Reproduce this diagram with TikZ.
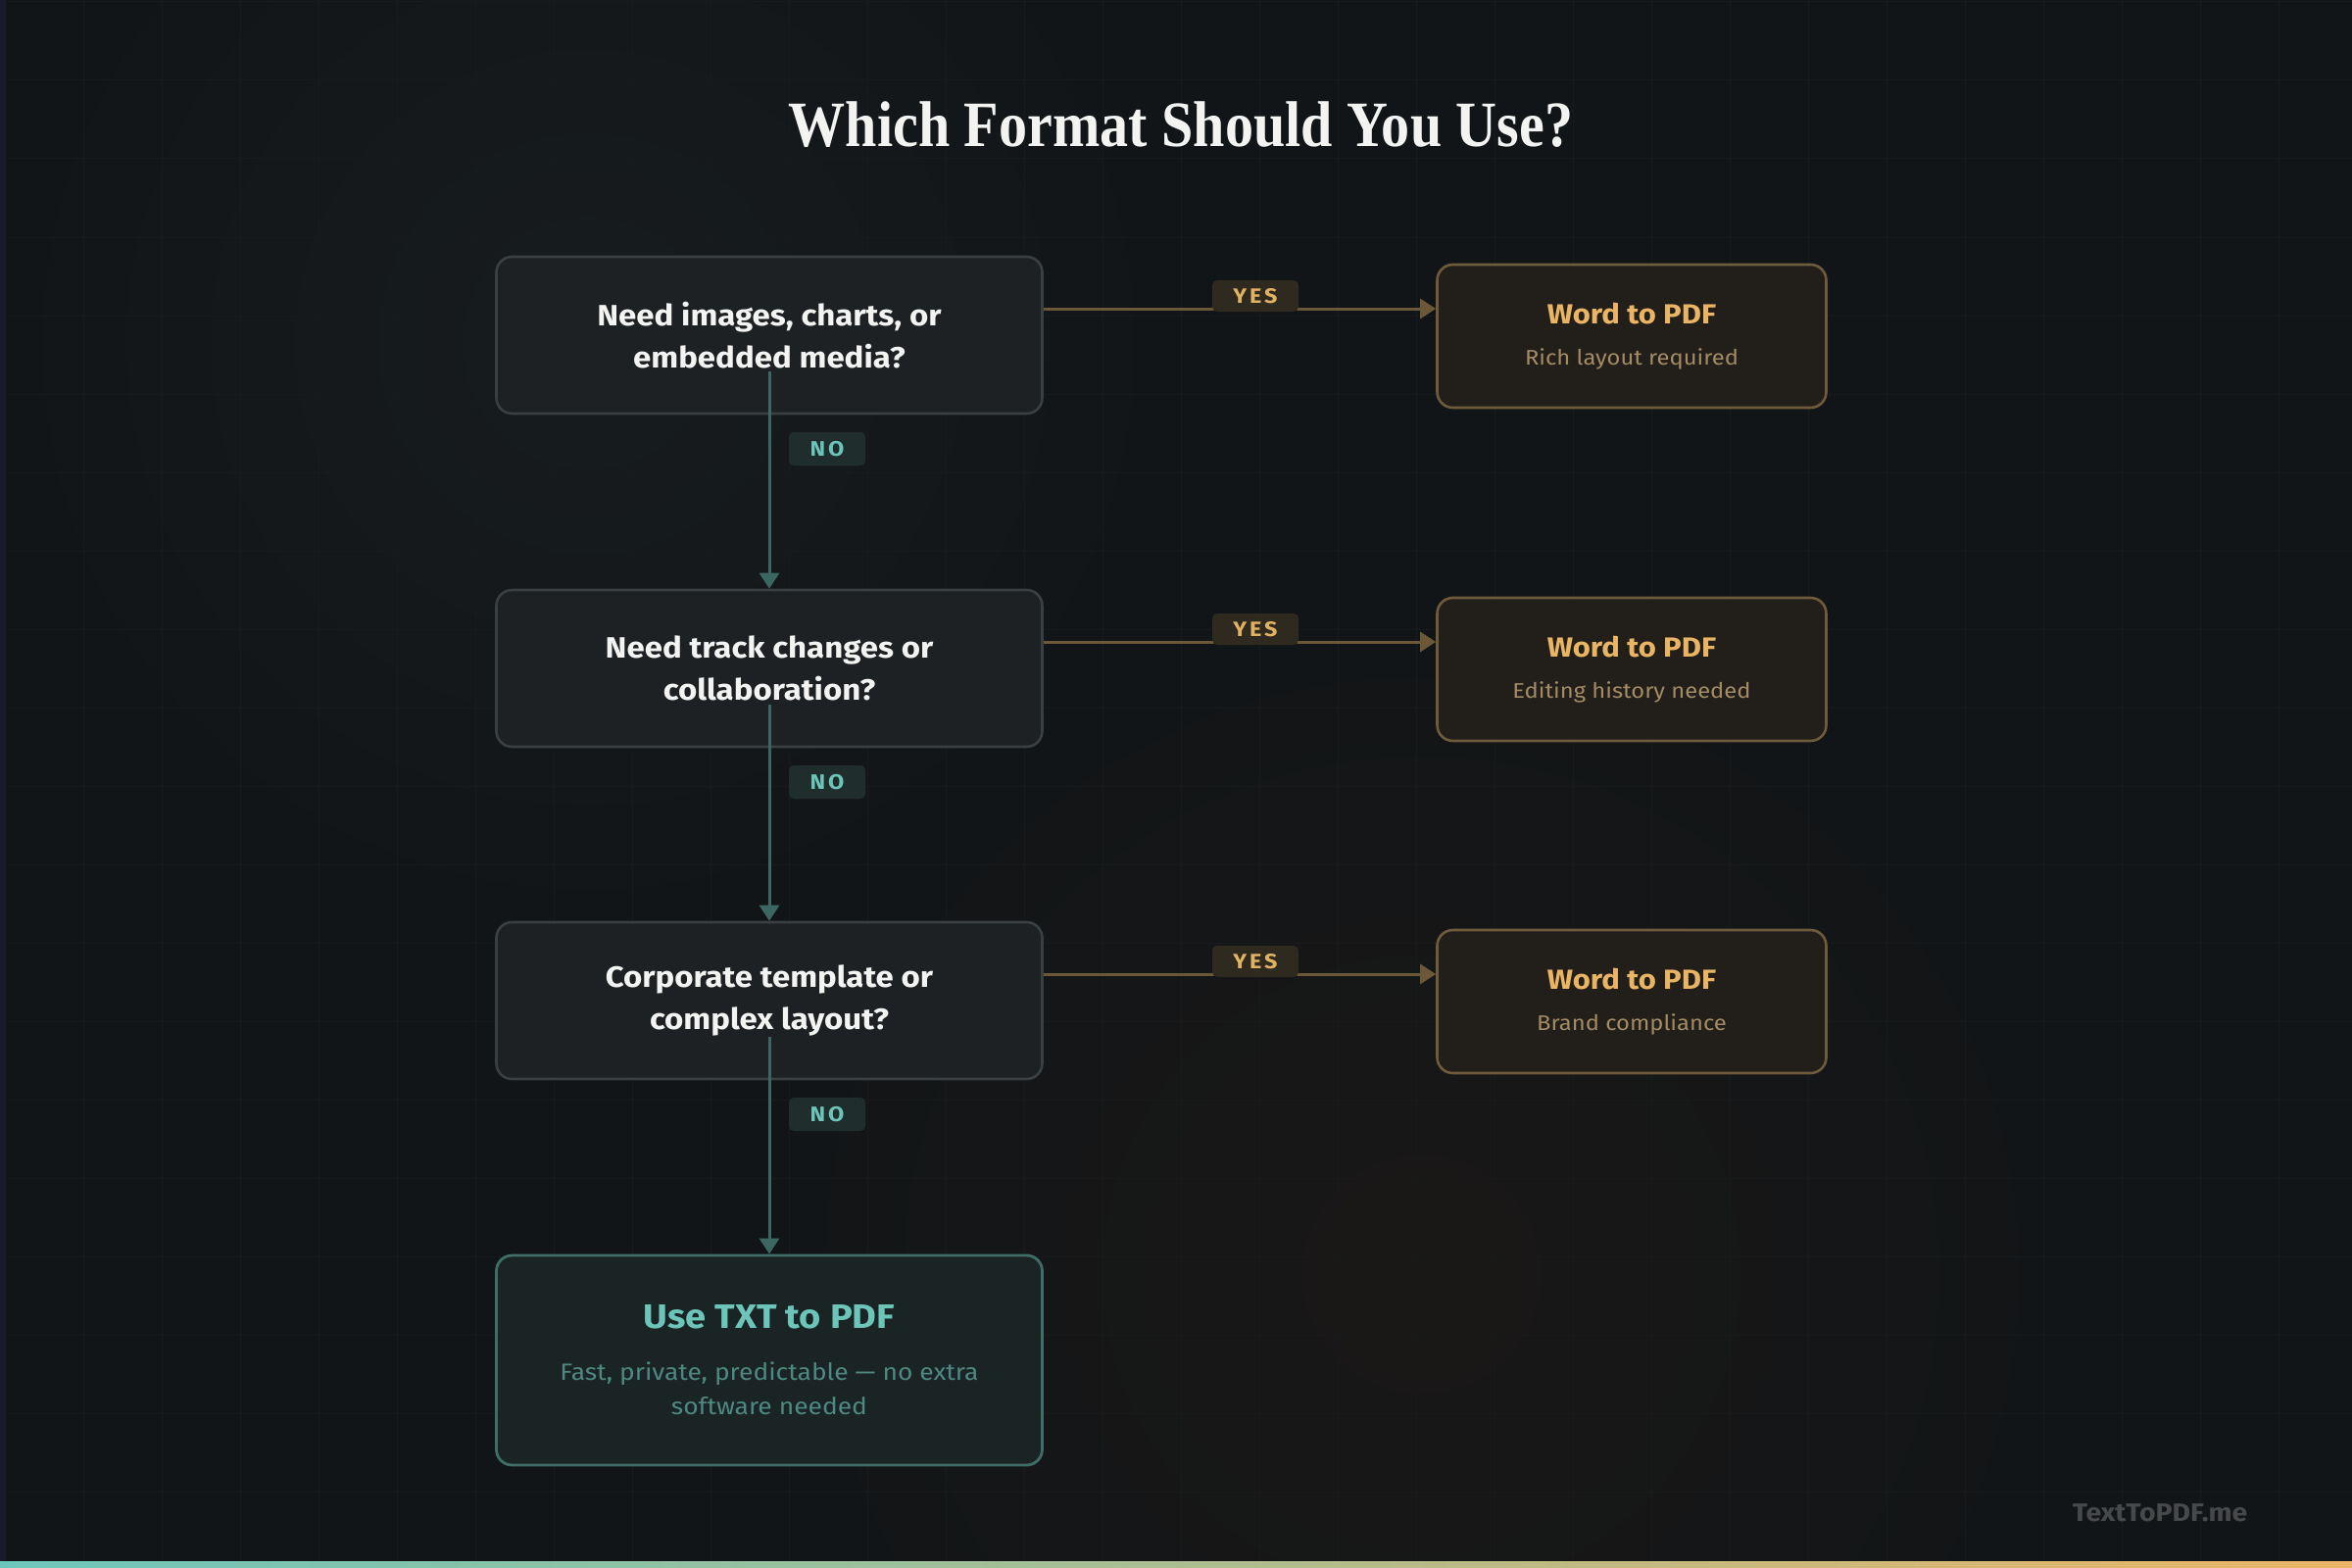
\documentclass[tikz,border=0pt]{standalone}
\usepackage{fontspec}
\setmainfont[FakeStretch=1.1]{Fira Sans}
\newfontfamily\titlefont[FakeStretch=0.88]{Liberation Serif}
\usetikzlibrary{arrows.meta,calc}
\definecolor{bg}{HTML}{121517}
\definecolor{gridc}{HTML}{181B1E}
\definecolor{qfill}{HTML}{1D2123}
\definecolor{qborder}{HTML}{3A3F41}
\definecolor{qtext}{HTML}{F3F3F1}
\definecolor{ofill}{HTML}{221F1A}
\definecolor{oborder}{HTML}{6E5B3C}
\definecolor{otitle}{HTML}{E9B565}
\definecolor{osub}{HTML}{A38B66}
\definecolor{tfill}{HTML}{1A2424}
\definecolor{tborder}{HTML}{3F6E68}
\definecolor{ttitle}{HTML}{6CC5B8}
\definecolor{tsub}{HTML}{4F8880}
\definecolor{tline}{HTML}{3B6662}
\definecolor{oline}{HTML}{6A5838}
\definecolor{yesfill}{HTML}{2F2A20}
\definecolor{yestext}{HTML}{E2B263}
\definecolor{nofill}{HTML}{1F2E2D}
\definecolor{notext}{HTML}{6CC5B8}
\definecolor{mark}{HTML}{47484A}
\definecolor{barl}{HTML}{6CC7BB}
\definecolor{barr}{HTML}{EAB466}
\definecolor{strip}{HTML}{1B1A2C}
\definecolor{glowt}{HTML}{171C1E}
\definecolor{glowo}{HTML}{1A1817}
\tikzset{
  qbox/.style={draw=qborder, fill=qfill, line width=1.3pt, rounded corners=8pt,
    minimum width=278.5pt, minimum height=80pt, align=center, text=qtext,
    font=\bfseries\fontsize{15}{21.5}\selectfont, inner sep=0pt},
  obox/.style={draw=oborder, fill=ofill, line width=1.3pt, rounded corners=8pt,
    minimum width=198.5pt, minimum height=73pt, align=center, inner sep=0pt,
    font=\fontsize{10.8}{14}\selectfont},
  tbox/.style={draw=tborder, fill=tfill, line width=1.4pt, rounded corners=8pt,
    minimum width=278.5pt, minimum height=107pt, align=center, inner sep=0pt,
    font=\fontsize{12}{17.5}\selectfont},
  yeslab/.style={fill=yesfill, rounded corners=2.5pt, text=yestext,
    font=\bfseries\fontsize{10.6}{10.6}\selectfont\addfontfeatures{LetterSpace=14},
    minimum width=44pt, minimum height=16pt, inner sep=0pt},
  nolab/.style={fill=nofill, rounded corners=2.5pt, text=notext,
    font=\bfseries\fontsize{10.7}{10.7}\selectfont\addfontfeatures{LetterSpace=14},
    minimum width=39pt, minimum height=17pt, inner sep=0pt},
  noarrow/.style={draw=tline, line width=1.5pt, -{Triangle[width=10pt,length=8pt]}},
  yesarrow/.style={draw=oline, line width=1.5pt, -{Triangle[width=10pt,length=8pt]}},
  gridline/.style={draw=gridc, line width=0.5pt},
}
\begin{document}
\begin{tikzpicture}[x=0.5pt,y=-0.5pt]
\fill[bg] (0,0) rectangle (2400,1600);
\useasboundingbox (0,0) rectangle (2400,1600);
\shade[inner color=glowt, outer color=bg] (600,350) circle (600);
\shade[inner color=glowo, outer color=bg] (1450,1300) circle (650);
\foreach \gx in {5,85,...,2400} \draw[gridline] (\gx,0) -- (\gx,1600);
\foreach \gy in {2,82,...,1600} \draw[gridline] (0,\gy) -- (2400,\gy);
\fill[strip] (0,0) rectangle (5,1600);

\node[text=qtext, font=\titlefont\bfseries\fontsize{33}{33}\selectfont] (title) at (1205,127) {Which Format Should You Use?};

\node[qbox] (q1) at (785,342) {Need images, charts, or\\embedded media?};
\node[qbox] (q2) at (785,682) {Need track changes or\\collaboration?};
\node[qbox] (q3) at (785,1021) {Corporate template or\\complex layout?};
\node[tbox] (fin) at (785,1388) {{\color{ttitle}\bfseries\fontsize{17.3}{20}\selectfont Use TXT to PDF}\\[9pt]
  {\color{tsub}Fast, private, predictable --- no extra}\\
  {\color{tsub}software needed}};

\node[obox] (r1) at (1665,343) {{\color{otitle}\bfseries\fontsize{14.1}{16}\selectfont Word to PDF}\\[7pt]{\color{osub}Rich layout required}};
\node[obox] (r2) at (1665,683) {{\color{otitle}\bfseries\fontsize{14.1}{16}\selectfont Word to PDF}\\[7pt]{\color{osub}Editing history needed}};
\node[obox] (r3) at (1665,1022) {{\color{otitle}\bfseries\fontsize{14.1}{16}\selectfont Word to PDF}\\[7pt]{\color{osub}Brand compliance}};

\draw[yesarrow] ([yshift=13.5pt]q1.east) -- ([yshift=13.5pt]q1.east -| r1.west);
\draw[yesarrow] ([yshift=13.5pt]q2.east) -- ([yshift=13.5pt]q2.east -| r2.west);
\draw[yesarrow] ([yshift=13.5pt]q3.east) -- ([yshift=13.5pt]q3.east -| r3.west);
\draw[noarrow] ([yshift=22pt]q1.south) -- (q2.north);
\draw[noarrow] ([yshift=22pt]q2.south) -- (q3.north);
\draw[noarrow] ([yshift=22pt]q3.south) -- (fin.north);

\node[yeslab] (y1) at (1281,302) {YES};
\node[yeslab] (y2) at (1281,642) {YES};
\node[yeslab] (y3) at (1281,981) {YES};
\node[nolab] (n1) at (844,458) {NO};
\node[nolab] (n2) at (844,798) {NO};
\node[nolab] (n3) at (844,1137) {NO};

\node[text=mark, font=\bfseries\fontsize{12.9}{12.9}\selectfont] (wm) at (2204,1544) {TextToPDF.me};
\shade[left color=barl, right color=barr, middle color=barl!50!barr] (0,1593) rectangle (2400,1600);
\end{tikzpicture}
\end{document}
